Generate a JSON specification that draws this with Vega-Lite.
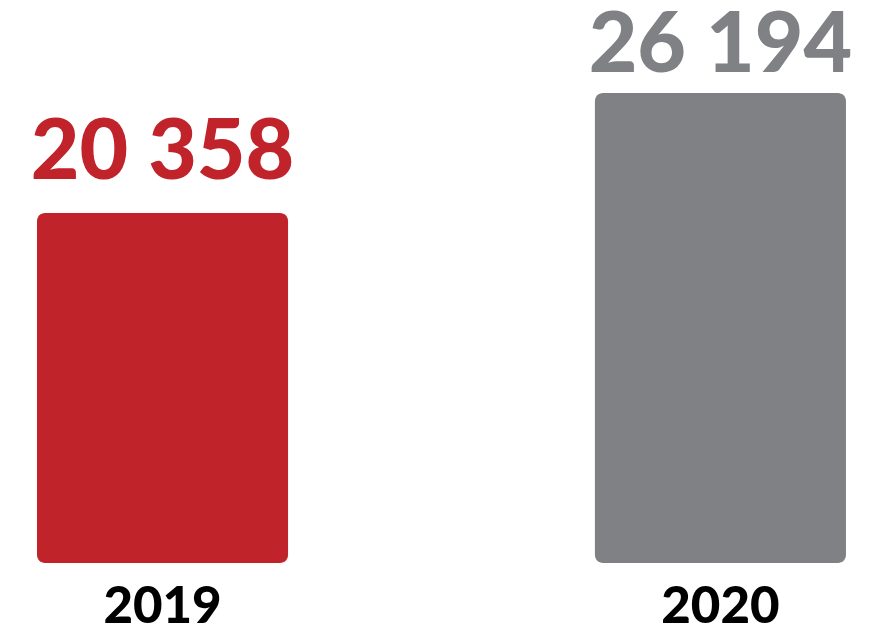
{
  "$schema": "https://vega.github.io/schema/vega-lite/v6.json",
  "width": 872,
  "height": 563,
  "autosize": {"type": "none"},
  "padding": {"left": 0, "top": 0, "right": 0, "bottom": 63},
  "background": "white",
  "config": {
    "view": {"stroke": null},
    "locale": {"number": {"decimal": ",", "thousands": " ", "grouping": [3], "currency": ["", ""]}}
  },
  "data": {"values": [
    {"year": "2019", "value": 20358},
    {"year": "2020", "value": 26194}
  ]},
  "encoding": {
    "x": {
      "field": "year", "type": "nominal",
      "scale": {"paddingInner": 0.55, "paddingOuter": 0.0565, "align": 0.587},
      "axis": {"title": null, "domain": false, "ticks": false, "tickSize": 0, "grid": false, "labelAngle": 0,
               "labelFont": "Lato", "labelFontWeight": 900, "labelFontSize": 51, "labelColor": "#000000",
               "labelBaseline": "alphabetic", "labelPadding": 59}
    }
  },
  "layer": [
    {
      "mark": {"type": "bar", "cornerRadius": 8},
      "encoding": {
        "y": {"field": "value", "type": "quantitative", "stack": null,
              "scale": {"domain": [3336, 30717], "zero": false, "nice": false}, "axis": null},
        "y2": {"datum": 3336},
        "color": {"field": "year", "type": "nominal", "scale": {"range": ["#C1232B", "#808184"]}, "legend": null}
      }
    },
    {
      "transform": [{"filter": "datum.year == '2019'"}],
      "mark": {"type": "text", "dy": -34, "baseline": "alphabetic", "font": "Lato", "fontWeight": 900, "fontSize": 84, "color": "#C1232B"},
      "encoding": {
        "y": {"field": "value", "type": "quantitative"},
        "text": {"field": "value", "type": "quantitative", "format": ",d"}
      }
    },
    {
      "transform": [{"filter": "datum.year == '2020'"}],
      "mark": {"type": "text", "dy": -21, "baseline": "alphabetic", "font": "Lato", "fontWeight": 900, "fontSize": 84, "color": "#808184"},
      "encoding": {
        "y": {"field": "value", "type": "quantitative"},
        "text": {"field": "value", "type": "quantitative", "format": ",d"}
      }
    }
  ]
}
